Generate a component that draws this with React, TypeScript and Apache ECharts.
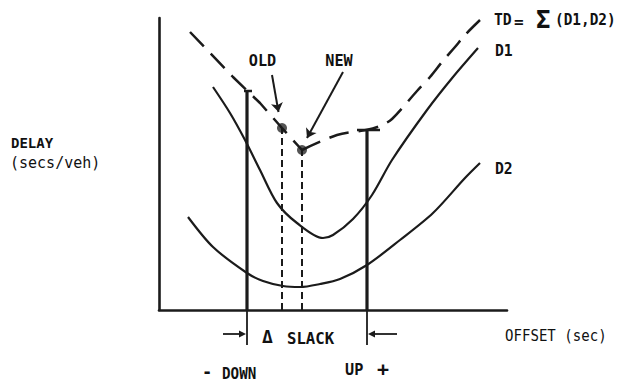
import React, { useEffect, useRef } from "react";
import * as echarts from "echarts";

// Schematic units: x = offset, y = delay (arbitrary units)
const xMax = 348;
const yMax = 292;

const d1Curve: number[][] = [
  [54, 223], [71, 197], [86, 170], [101, 140], [118, 107], [138, 87], [164, 72],
  [174, 75], [194, 91], [213, 115], [233, 150], [268, 200], [294, 233], [319, 262],
];
const d2Curve: number[][] = [
  [29, 93], [54, 63], [88, 37], [104, 29], [124, 24], [141, 23], [161, 26],
  [181, 31], [208, 45], [241, 70], [274, 97], [306, 132], [321, 147],
];
const tdLeft: number[][] = [[31, 278], [74, 233], [101, 207], [123, 182], [143, 160]];
const tdRight: number[][] = [
  [143, 160], [178, 175], [207, 180], [221, 184], [233, 191], [258, 219],
  [271, 233], [283, 248], [296, 263], [306, 275], [321, 290],
];
const oldPoint = [123, 182];
const newPoint = [143, 160];
const downBar = { x: 88, top: 219, capFrom: 85, capTo: 93 };
const upBar = { x: 208, top: 180, capFrom: 198, capTo: 221 };
const oldArrow = [[113, 235], [119.5, 198]];
const newArrow = [[184, 238], [148, 172]];

const INK = "#1b1b1b";
const FONT = "'DejaVu Sans Mono', monospace";

export default function App() {
  const ref = useRef<HTMLDivElement>(null);
  useEffect(() => {
    const chart = echarts.init(ref.current!, null, { renderer: "svg" });
    const plain = (name: string, data: number[][], width: number, type: any = "solid", smooth: any = false) => ({
      name,
      type: "line",
      data,
      smooth,
      showSymbol: false,
      silent: true,
      lineStyle: { color: INK, width, type },
      emphasis: { disabled: true },
    });
    chart.setOption({
      animation: false,
      backgroundColor: "#fff",
      grid: { left: 159, top: 18, right: 618 - 507, bottom: 381 - 310 },
      xAxis: {
        type: "value", min: 0, max: xMax,
        axisLine: { show: true, lineStyle: { color: INK, width: 2.6 } },
        axisTick: { show: false }, axisLabel: { show: false }, splitLine: { show: false },
      },
      yAxis: {
        type: "value", min: 0, max: yMax,
        axisLine: { show: true, lineStyle: { color: INK, width: 2.6 } },
        axisTick: { show: false }, axisLabel: { show: false }, splitLine: { show: false },
      },
      series: [
        plain("D1", d1Curve, 2.2, "solid", 0.3),
        plain("D2", d2Curve, 2.2, "solid", 0.3),
        plain("TD", tdLeft, 2.5, [20, 10], false),
        plain("TD ", tdRight, 2.5, [20, 10], 0.3),
        plain("down", [[downBar.x, 0], [downBar.x, downBar.top]], 3.2),
        plain("downCap", [[downBar.capFrom, downBar.top], [downBar.capTo, downBar.top]], 2.5),
        plain("up", [[upBar.x, 0], [upBar.x, upBar.top]], 3.2),
        plain("upCap", [[upBar.capFrom, upBar.top], [upBar.capTo, upBar.top]], 2.5),
        plain("oldV", [[oldPoint[0], 0], oldPoint], 2, [7, 4]),
        plain("newV", [[newPoint[0], 0], newPoint], 2, [7, 4]),
        {
          name: "points",
          type: "scatter",
          data: [oldPoint, newPoint],
          symbolSize: 10,
          silent: true,
          itemStyle: { color: "#2a2a2a" },
          markLine: {
            silent: true,
            symbol: ["none", "arrow"],
            symbolSize: 9,
            label: { show: false },
            lineStyle: { color: INK, width: 2, type: "solid" },
            data: [
              [{ coord: oldArrow[0] }, { coord: oldArrow[1] }],
              [{ coord: newArrow[0] }, { coord: newArrow[1] }],
            ],
          },
        },
      ],
    });

    const px = (x: number, y: number) => chart.convertToPixel({ xAxisIndex: 0, yAxisIndex: 0 }, [x, y]) as number[];
    const [dx, y0] = px(downBar.x, 0);
    const [ux] = px(upBar.x, 0);
    const ay = y0 + 24;
    const txt = (text: string, x: number, y: number, size = 16, align = "left", sx = 1, weight: any = "bold") => ({
      type: "text", x, y, scaleX: sx, silent: true,
      style: { text, fill: "#111", font: `${weight} ${size}px ${FONT}`, align, verticalAlign: "middle" },
    });
    const ln = (x1: number, y1: number, x2: number, y2: number, w = 1.8) => ({
      type: "line", silent: true, shape: { x1, y1, x2, y2 }, style: { stroke: INK, lineWidth: w },
    });
    chart.setOption({
      graphic: [
        ln(dx, y0, dx, y0 + 35),
        ln(ux, y0, ux, y0 + 35),
        ln(dx - 24, ay, dx - 6, ay),
        { type: "polygon", silent: true, shape: { points: [[dx - 1, ay], [dx - 8, ay - 3.5], [dx - 8, ay + 3.5]] }, style: { fill: INK } },
        ln(ux + 30, ay, ux + 6, ay),
        { type: "polygon", silent: true, shape: { points: [[ux + 1, ay], [ux + 8, ay - 3.5], [ux + 8, ay + 3.5]] }, style: { fill: INK } },
        txt("DELAY", 11, 143, 14, "left", 1),
        txt("(secs/veh)", 10, 163, 15, "left", 1, "normal"),
        txt("OLD", 262.5, 61, 16, "center", 0.95),
        txt("NEW", 339, 61, 16, "center", 0.95),
        txt("TD", 494, 20, 16, "left", 0.92),
        txt("=", 514, 21, 16, "left", 1),
        txt("Σ", 536, 20, 24, "left", 1),
        txt("(D1,D2)", 555, 20, 16, "left", 0.9),
        txt("D1", 495, 51, 16, "left", 0.92),
        txt("D2", 495, 169, 16, "left", 0.92),
        txt("Δ", 262, 336, 18, "left", 1),
        txt("SLACK", 287, 338, 16, "left", 0.98),
        txt("OFFSET (sec)", 505, 336, 16, "left", 0.88, "normal"),
        txt("-", 202, 372, 17, "left", 1),
        txt("DOWN", 222, 373, 15, "left", 0.95),
        txt("UP", 345, 370, 16, "left", 0.95),
        txt("+", 377, 369, 20, "left", 1),
      ],
    });
    return () => chart.dispose();
  }, []);
  return (
    <div
      ref={ref}
      style={{ position: "absolute", left: 0, top: 0, width: 618, height: 381, background: "#fff" }}
    />
  );
}
